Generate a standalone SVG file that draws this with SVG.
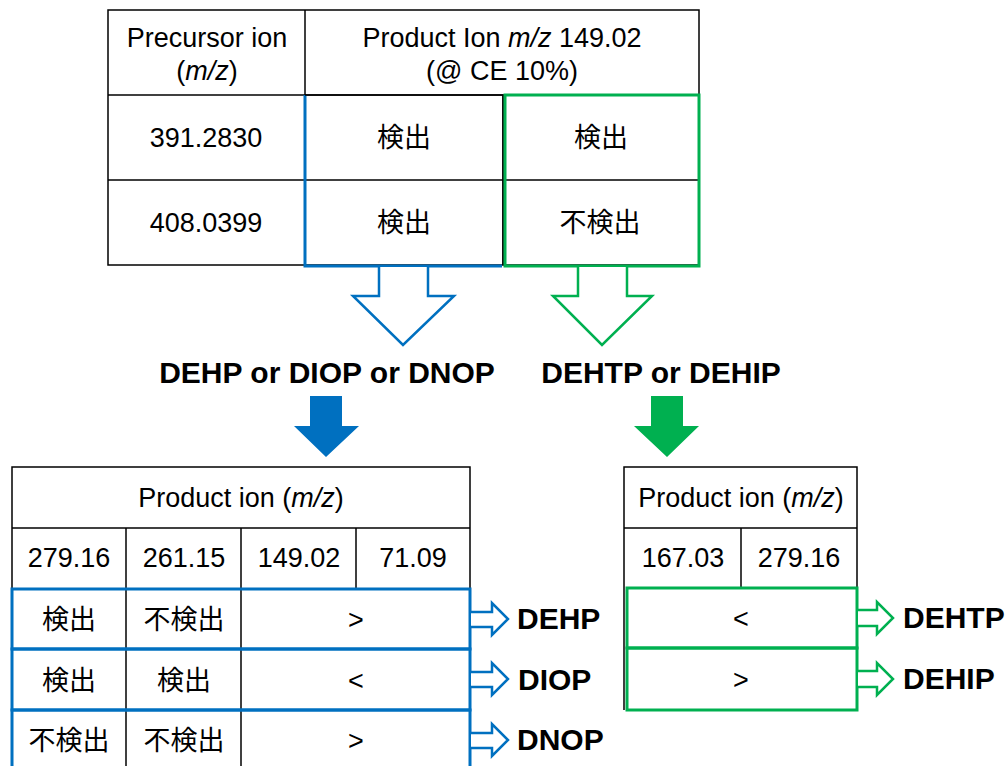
<svg xmlns="http://www.w3.org/2000/svg" width="1007" height="766" viewBox="0 0 1007 766">
<style>
.bg{fill:#fff}
.grid{fill:none;stroke:#000;stroke-width:1.5}
.bb{fill:none;stroke:#0070C0;stroke-width:3}
.gb{fill:none;stroke:#00B050;stroke-width:3}
.t{font-family:"Liberation Sans",Arial,"Noto Sans CJK JP",sans-serif;font-size:27px;fill:#000;text-anchor:middle}
.j{font-family:"Liberation Sans",Arial,"Noto Sans CJK JP",sans-serif;font-size:27px;fill:#000;text-anchor:middle}
.b{font-family:"Liberation Sans",Arial,sans-serif;font-size:30px;font-weight:bold;fill:#000}
.i{font-style:italic}
.ha{fill:#fff;stroke-width:2.5}
.hb{stroke:#0070C0}
.hg{stroke:#00B050}
</style>
<rect class="bg" x="0" y="0" width="1007" height="766"/>

<g id="top-table">
<rect class="grid" x="108" y="10" width="591" height="255"/>
<line class="grid" x1="305" y1="10" x2="305" y2="265"/>
<line class="grid" x1="108" y1="95" x2="699" y2="95"/>
<line class="grid" x1="108" y1="180" x2="699" y2="180"/>
<line class="grid" x1="503" y1="95" x2="503" y2="265"/>
<text class="t" x="207" y="47">Precursor ion</text>
<text class="t" x="207" y="80">(<tspan class="i">m/z</tspan>)</text>
<text class="t" x="502" y="47">Product Ion <tspan class="i">m/z</tspan> 149.02</text>
<text class="t" x="502" y="80">(@ CE 10%)</text>
<text class="t" x="206" y="147">391.2830</text>
<text class="t" x="206" y="232">408.0399</text>
<text class="j" x="404" y="147">検出</text>
<text class="j" x="404" y="232">検出</text>
<text class="j" x="601" y="147">検出</text>
<text class="j" x="600" y="232">不検出</text>
</g>

<g id="blue-box-top">
<path class="bb" d="M305,95 V266 H502"/>
<path class="grid" d="M305,95 H503 V265"/>
</g>
<g id="green-box-top">
<rect class="gb" x="505" y="95" width="194" height="171"/>
</g>

<g id="label-blue">
<text class="b" x="327" y="383" text-anchor="middle">DEHP or DIOP or DNOP</text>
</g>
<g id="label-green">
<text class="b" x="661" y="383" text-anchor="middle">DEHTP or DEHIP</text>
</g>

<g id="bottom-left-table">
<path class="grid" d="M12,766 V467 H470 V766"/>
<line class="grid" x1="12" y1="528" x2="470" y2="528"/>
<line class="grid" x1="126" y1="528" x2="126" y2="766"/>
<line class="grid" x1="241" y1="528" x2="241" y2="766"/>
<line class="grid" x1="356" y1="528" x2="356" y2="589"/>
<text class="t" x="241" y="507">Product ion (<tspan class="i">m/z</tspan>)</text>
<text class="t" x="69" y="567">279.16</text>
<text class="t" x="184" y="567">261.15</text>
<text class="t" x="299" y="567">149.02</text>
<text class="t" x="413" y="567">71.09</text>
<text class="j" x="69" y="629">検出</text>
<text class="j" x="184" y="629">不検出</text>
<text class="t" x="356" y="629">&gt;</text>
<text class="j" x="69" y="690">検出</text>
<text class="j" x="184" y="690">検出</text>
<text class="t" x="356" y="690">&lt;</text>
<text class="j" x="69" y="750">不検出</text>
<text class="j" x="184" y="750">不検出</text>
<text class="t" x="356" y="750">&gt;</text>
<rect class="bb" x="12" y="589" width="458" height="60"/>
<rect class="bb" x="12" y="649" width="458" height="61"/>
<rect class="bb" x="12" y="710" width="458" height="70"/>
</g>

<g id="bottom-right-table">
<path class="grid" d="M624,710 V467 H857 V710"/>
<line class="grid" x1="624" y1="528" x2="857" y2="528"/>
<line class="grid" x1="741" y1="528" x2="741" y2="588"/>
<text class="t" x="741" y="507">Product ion (<tspan class="i">m/z</tspan>)</text>
<text class="t" x="683" y="567">167.03</text>
<text class="t" x="799" y="567">279.16</text>
<text class="t" x="741" y="628">&lt;</text>
<text class="t" x="741" y="689">&gt;</text>
<rect class="gb" x="627" y="588" width="230" height="60"/>
<rect class="gb" x="627" y="648" width="230" height="62"/>
</g>

<g id="results">
<text class="b" x="517" y="629">DEHP</text>
<text class="b" x="518" y="690">DIOP</text>
<text class="b" x="517" y="750">DNOP</text>
<text class="b" x="903" y="628">DEHTP</text>
<text class="b" x="903" y="689">DEHIP</text>
</g>

<g id="connectors">
<path class="ha hb" d="M379,267 V296 H353 L403,345 L454,296 H428 V267"/>
<path class="ha hg" d="M578,267 V296 H553 L602,345 L652,296 H627 V267"/>
<polygon fill="#0070C0" points="310,396 342,396 342,426 359,426 326,457 294,426 310,426"/>
<polygon fill="#00B050" points="651,396 683,396 683,426 699,426 667,457 634,426 651,426"/>
<path class="ha hb" d="M471,612 H492 V603 L508,619 L492,635 V627 H471"/>
<path class="ha hb" d="M471,672 H492 V663 L508,679 L492,695 V687 H471"/>
<path class="ha hb" d="M471,733 H492 V724 L508,740 L492,756 V748 H471"/>
<path class="ha hg" d="M858,610 H877 V602 L893,618 L877,634 V626 H858"/>
<path class="ha hg" d="M858,671 H877 V663 L893,679 L877,695 V687 H858"/>
</g>
</svg>
